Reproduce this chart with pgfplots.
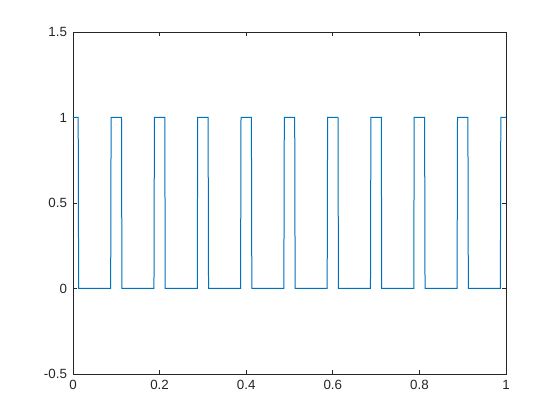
\documentclass[border=0pt]{standalone}
\usepackage{pgfplots}
\pgfplotsset{compat=1.18}
\usepackage{fontspec}
\setmainfont{Liberation Sans}
\definecolor{mblue}{rgb}{0,0.447,0.741}
\definecolor{axgray}{rgb}{0.15,0.15,0.15}
\begin{document}
\begin{tikzpicture}
\path[use as bounding box, fill=white] (-54.75pt,-34.5pt) rectangle (365.25pt,280.5pt);
\begin{axis}[
  at={(0pt,0pt)}, anchor=south west,
  scale only axis, width=324.75pt, height=256.5pt,
  xmin=0, xmax=1, ymin=-0.5, ymax=1.5,
  xtick={0,0.2,0.4,0.6,0.8,1},
  xticklabels={0,0.2,0.4,0.6,0.8,1},
  ytick={-0.5,0,0.5,1,1.5},
  yticklabels={-0.5,0,0.5,1,1.5},
  tick align=inside,
  major tick length=3.25pt,
  axis line style={axgray, line width=0.5pt},
  every tick/.style={axgray, line width=0.5pt},
  tick label style={font=\fontsize{10}{12}\selectfont, text=axgray},
  yticklabel style={xshift=-1pt},
  xticklabel style={yshift=-1pt},
  clip=false,
]
\addplot[mblue, line width=0.75pt] coordinates {
(0,1)(0.012,1)(0.013,0)
(0.087,0)(0.088,1)(0.112,1)(0.113,0)
(0.187,0)(0.188,1)(0.212,1)(0.213,0)
(0.287,0)(0.288,1)(0.312,1)(0.313,0)
(0.387,0)(0.388,1)(0.412,1)(0.413,0)
(0.487,0)(0.488,1)(0.512,1)(0.513,0)
(0.587,0)(0.588,1)(0.612,1)(0.613,0)
(0.687,0)(0.688,1)(0.712,1)(0.713,0)
(0.787,0)(0.788,1)(0.812,1)(0.813,0)
(0.887,0)(0.888,1)(0.912,1)(0.913,0)
(0.987,0)(0.988,1)(1,1)
};
\end{axis}
\end{tikzpicture}
\end{document}
